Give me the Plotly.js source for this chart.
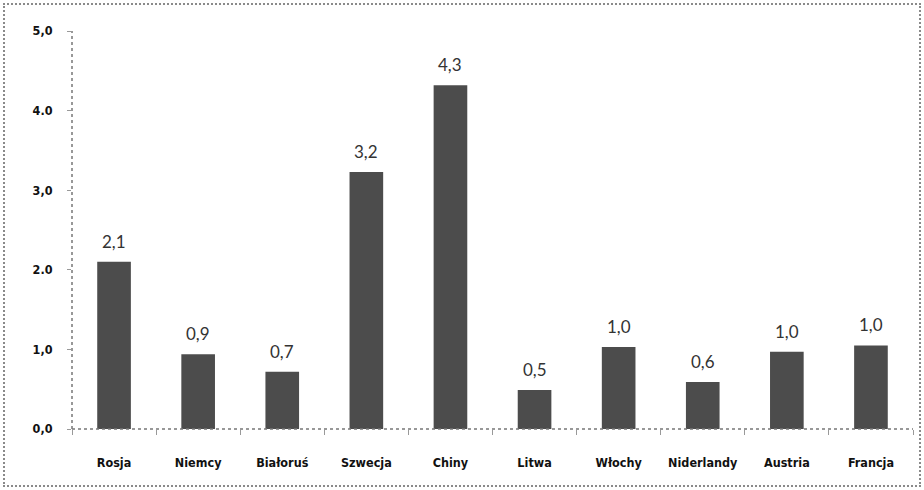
<!DOCTYPE html>
<html><head><meta charset="utf-8">
<script src="https://cdn.plot.ly/plotly-3.0.1.min.js"></script>
<style>
html,body{margin:0;padding:0;background:#fff;}
#wrap{position:relative;width:924px;height:490px;}
#chart{width:924px;height:490px;}
#frame{position:absolute;left:3px;top:3px;width:914px;height:480px;border:2px dotted #8a8a8a;pointer-events:none;}
</style></head>
<body>
<div id="wrap"><div id="chart"></div><div id="frame"></div></div>
<script>
const categories = ["Rosja","Niemcy","Białoruś","Szwecja","Chiny","Litwa","Włochy","Niderlandy","Austria","Francja"];
const values = [2.1, 0.94, 0.72, 3.23, 4.32, 0.49, 1.03, 0.59, 0.97, 1.05];
const valueLabels = ["2,1","0,9","0,7","3,2","4,3","0,5","1,0","0,6","1,0","1,0"];
const yTickVals = [0,1,2,3,4,5];
const yTickText = ["0,0","1,0","2.0","3,0","4.0","5,0"];

const trace = {
  type: "bar",
  x: categories,
  y: values,
  marker: {color: "#4c4c4c", line: {width: 0}},
  width: 0.4,
  hoverinfo: "skip"
};

const annotations = categories.map((c, i) => ({
  x: c, y: values[i], xref: "x", yref: "y",
  text: valueLabels[i], showarrow: false,
  yanchor: "bottom", yshift: 8,
  font: {family: "Lato, 'Open Sans', sans-serif", size: 17, color: "#333"}
}));

const tickFont = {family: "'DejaVu Sans Condensed', 'DejaVu Sans', sans-serif", size: 12.5, color: "#111", weight: "bold"};

const layout = {
  width: 924, height: 490,
  margin: {l: 72, r: 11, t: 31, b: 61},
  paper_bgcolor: "#fff", plot_bgcolor: "#fff",
  showlegend: false,
  xaxis: {
    type: "category",
    showgrid: false, zeroline: false, showline: false,
    ticks: "outside", tickson: "boundaries", ticklen: 5, tickcolor: "#999", tickwidth: 1,
    ticklabelstandoff: 24,
    tickfont: tickFont,
    fixedrange: true
  },
  yaxis: {
    range: [0, 5],
    tickvals: yTickVals, ticktext: yTickText,
    showgrid: false, zeroline: false, showline: false,
    ticks: "outside", ticklen: 4, tickcolor: "#999", tickwidth: 1,
    ticklabelstandoff: 12,
    tickfont: tickFont,
    fixedrange: true
  },
  annotations: annotations,
  shapes: [
    {type: "line", xref: "paper", yref: "paper", x0: 0, x1: 0, y0: 0, y1: 1, line: {color: "#777", width: 1.5, dash: "dot"}},
    {type: "line", xref: "paper", yref: "paper", x0: 0, x1: 1, y0: 0, y1: 0, line: {color: "#777", width: 1.5, dash: "dot"}}
  ]
};

Plotly.newPlot("chart", [trace], layout, {displayModeBar: false, staticPlot: true});
</script>
</body></html>
